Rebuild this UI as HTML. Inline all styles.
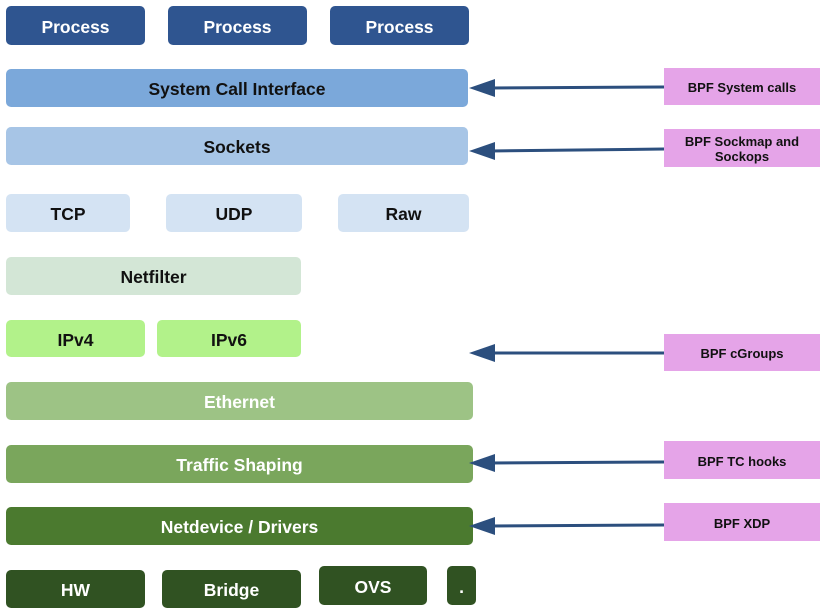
<!DOCTYPE html>
<html><head><meta charset="utf-8"><style>
body{margin:0;width:825px;height:611px;background:#fff;position:relative;overflow:hidden;font-family:"Liberation Sans",Arial,sans-serif;font-weight:bold}
.b{position:absolute;display:flex;align-items:center;justify-content:center;border-radius:5px;font-size:17.5px;color:#111;box-sizing:border-box;padding-top:3px}
.w{color:#fff}
.p{position:absolute;display:flex;align-items:center;justify-content:center;text-align:center;background:#e5a4e8;font-size:13px;color:#111;line-height:15px;box-sizing:border-box;padding-top:2px}
</style></head><body>
<div class="b w" style="left:6px;top:6px;width:139px;height:39px;background:#2f5590">Process</div>
<div class="b w" style="left:168px;top:6px;width:139px;height:39px;background:#2f5590">Process</div>
<div class="b w" style="left:330px;top:6px;width:139px;height:39px;background:#2f5590">Process</div>
<div class="b" style="left:6px;top:69px;width:462px;height:38px;background:#7ba8da">System Call Interface</div>
<div class="b" style="left:6px;top:127px;width:462px;height:38px;background:#a7c5e6">Sockets</div>
<div class="b" style="left:6px;top:194px;width:124px;height:38px;background:#d4e3f3">TCP</div>
<div class="b" style="left:166px;top:194px;width:136px;height:38px;background:#d4e3f3">UDP</div>
<div class="b" style="left:338px;top:194px;width:131px;height:38px;background:#d4e3f3">Raw</div>
<div class="b" style="left:6px;top:257px;width:295px;height:38px;background:#d3e6d6">Netfilter</div>
<div class="b" style="left:6px;top:320px;width:139px;height:37px;background:#b2f28a">IPv4</div>
<div class="b" style="left:157px;top:320px;width:144px;height:37px;background:#b2f28a">IPv6</div>
<div class="b w" style="left:6px;top:382px;width:467px;height:38px;background:#9dc385">Ethernet</div>
<div class="b w" style="left:6px;top:445px;width:467px;height:38px;background:#7aa65c">Traffic Shaping</div>
<div class="b w" style="left:6px;top:507px;width:467px;height:38px;background:#4b7a2f">Netdevice / Drivers</div>
<div class="b w" style="left:6px;top:570px;width:139px;height:38px;background:#305222">HW</div>
<div class="b w" style="left:162px;top:570px;width:139px;height:38px;background:#305222">Bridge</div>
<div class="b w" style="left:319px;top:566px;width:108px;height:39px;background:#305222">OVS</div>
<div class="b w" style="left:447px;top:566px;width:29px;height:39px;background:#305222">.</div>
<div class="p" style="left:664px;top:68px;width:156px;height:37px">BPF System calls</div>
<div class="p" style="left:664px;top:129px;width:156px;height:38px">BPF Sockmap and<br>Sockops</div>
<div class="p" style="left:664px;top:334px;width:156px;height:37px">BPF cGroups</div>
<div class="p" style="left:664px;top:441px;width:156px;height:38px">BPF TC hooks</div>
<div class="p" style="left:664px;top:503px;width:156px;height:38px">BPF XDP</div>
<svg width="825" height="611" style="position:absolute;left:0;top:0">
<g stroke="#2c4f7e" stroke-width="3" fill="#2c4f7e">
<line x1="664" y1="87" x2="490" y2="88"/><polygon stroke="none" points="469,88 495,79 495,97"/>
<line x1="664" y1="149" x2="490" y2="151"/><polygon stroke="none" points="469,151 495,142 495,160"/>
<line x1="664" y1="353" x2="490" y2="353"/><polygon stroke="none" points="469,353 495,344 495,362"/>
<line x1="664" y1="462" x2="490" y2="463"/><polygon stroke="none" points="469,463 495,454 495,472"/>
<line x1="664" y1="525" x2="490" y2="526"/><polygon stroke="none" points="469,526 495,517 495,535"/>
</g></svg>
</body></html>
